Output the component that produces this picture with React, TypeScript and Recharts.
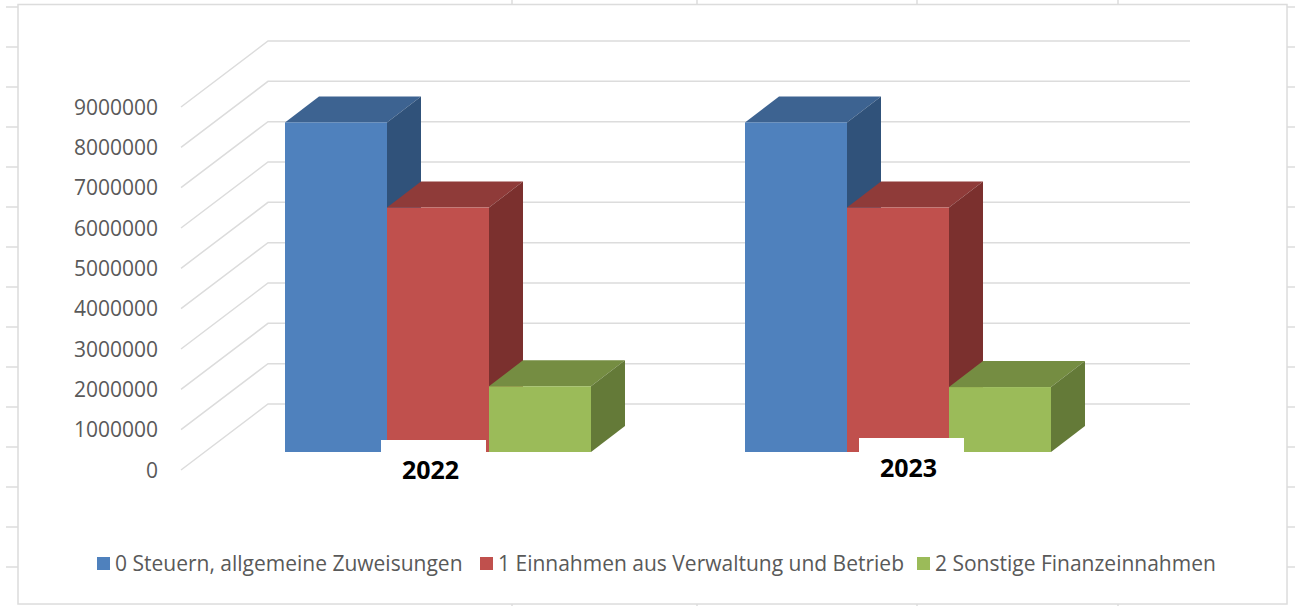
import { Bar, BarChart, CartesianGrid, Legend, XAxis, YAxis } from "recharts";

const years = ["2022", "2023"];
const steuern = [8170000, 8170000];
const einnahmen = [6060000, 6060000];
const sonstige = [1630000, 1610000];
const yTicks = [0, 1000000, 2000000, 3000000, 4000000, 5000000, 6000000, 7000000, 8000000, 9000000];

const rows = years.map((year, i) => ({
  year,
  steuern: steuern[i],
  einnahmen: einnahmen[i],
  sonstige: sonstige[i],
}));

const WIDTH = 1295;
const HEIGHT = 606;
const FONT = '"Open Sans", sans-serif';
const DEPTH_X = 34;
const DEPTH_Y = 26;
const GRID = "#dcdcdc";

// sheet cell lines around the chart object
const rowLines = [7, 47, 87, 127, 167, 207, 247, 287, 327, 367, 407, 447, 487, 527, 567];
const colLines = [512, 697, 917, 1118];

// the two year labels sit a bit off-centre in the source
const yearNudge: Record<string, { patch: number; text: number; dy: number }> = {
  "2022": { patch: -5, text: -8, dy: 0 },
  "2023": { patch: 13, text: 10, dy: -2 },
};

const legendLeft = [97, 480, 917];

function box3d(topColor: string, sideColor: string) {
  return function Box(props: any) {
    const { x, y, width, height, fill } = props;
    const r = x + width;
    const b = y + height;
    return (
      <g>
        <path
          d={`M${x},${y}L${x + DEPTH_X},${y - DEPTH_Y}L${r + DEPTH_X},${y - DEPTH_Y}L${r},${y}Z`}
          fill={topColor}
        />
        <path
          d={`M${r},${y}L${r + DEPTH_X},${y - DEPTH_Y}L${r + DEPTH_X},${b - DEPTH_Y}L${r},${b}Z`}
          fill={sideColor}
        />
        <rect x={x} y={y} width={width} height={height} fill={fill} />
      </g>
    );
  };
}

function WallLine(props: any) {
  const { y1 } = props;
  return (
    <g stroke={GRID} strokeWidth={1.5} fill="none">
      <path d={`M181,${y1 + 18}L268,${y1 - 48}L1190,${y1 - 48}`} />
    </g>
  );
}

function ValueTick(props: any) {
  const { y, payload } = props;
  return (
    <text x={158} y={y + 18} dy="0.36em" textAnchor="end" fontFamily={FONT} fontSize={21} fill="#595959">
      {payload.value}
    </text>
  );
}

function YearTick(props: any) {
  const { x, payload } = props;
  const nudge = yearNudge[payload.value];
  return (
    <g>
      <rect x={x + nudge.patch - 52.5} y={440 + nudge.dy} width={105} height={16} fill="#fff" />
      <text
        x={x + nudge.text}
        y={470 + nudge.dy}
        dy="0.36em"
        textAnchor="middle"
        fontFamily={FONT}
        fontWeight={700}
        fontSize={25}
        fill="#000"
      >
        {payload.value}
      </text>
    </g>
  );
}

function LegendRow(props: any) {
  return (
    <div style={{ position: "relative", width: WIDTH, height: 30 }}>
      {props.payload.map((item: any, i: number) => (
        <div
          key={item.value}
          style={{
            position: "absolute",
            left: legendLeft[i],
            top: 0,
            display: "flex",
            alignItems: "center",
            gap: 5,
            fontFamily: FONT,
            fontSize: 21,
            color: "#595959",
            whiteSpace: "nowrap",
          }}
        >
          <span style={{ width: 13, height: 13, background: item.color }} />
          {item.value}
        </div>
      ))}
    </div>
  );
}

function SheetLines() {
  return (
    <svg width={WIDTH} height={HEIGHT} style={{ position: "absolute", left: 0, top: 0 }}>
      <g stroke={GRID} strokeWidth={1.5} fill="none">
        {rowLines.map((y) => (
          <g key={y}>
            <line x1={6} x2={18} y1={y} y2={y} />
            <line x1={1287} x2={1295} y1={y} y2={y} />
          </g>
        ))}
        {colLines.map((x) => (
          <g key={x}>
            <line x1={x} x2={x} y1={0} y2={4} />
            <line x1={x} x2={x} y1={604} y2={606} />
          </g>
        ))}
        <rect x={18} y={4.5} width={1269} height={599.5} fill="#fff" />
      </g>
    </svg>
  );
}

export default function App() {
  return (
    <div style={{ position: "absolute", left: 0, top: 0, width: WIDTH, height: HEIGHT, background: "#fff" }}>
      <SheetLines />
      <div style={{ position: "absolute", left: 0, top: 0 }}>
        <BarChart
          width={WIDTH}
          height={HEIGHT}
          data={rows}
          barGap={0}
          barCategoryGap={76.5}
          margin={{ top: 89, right: 166.5, bottom: 94, left: 148.5 }}
        >
          <CartesianGrid vertical={false} horizontal={(p: any) => <WallLine key={p.y1} {...p} />} />
          <YAxis
            width={60}
            domain={[0, 9000000]}
            ticks={yTicks}
            interval={0}
            axisLine={false}
            tickLine={false}
            tick={<ValueTick />}
          />
          <Bar
            dataKey="steuern"
            name="0 Steuern, allgemeine Zuweisungen"
            fill="#4f81bd"
            shape={box3d("#3d6391", "#30527a")}
            isAnimationActive={false}
          />
          <Bar
            dataKey="einnahmen"
            name="1 Einnahmen aus Verwaltung und Betrieb"
            fill="#c0504d"
            shape={box3d("#8f3b39", "#7b302e")}
            isAnimationActive={false}
          />
          <Bar
            dataKey="sonstige"
            name="2 Sonstige Finanzeinnahmen"
            fill="#9bbb59"
            shape={box3d("#758d42", "#647a38")}
            isAnimationActive={false}
          />
          <XAxis dataKey="year" height={30} axisLine={false} tickLine={false} tick={<YearTick />} />
          <Legend
            height={0}
            content={<LegendRow />}
            wrapperStyle={{ left: 0, top: 549, bottom: "auto", width: WIDTH, height: 30 }}
          />
        </BarChart>
      </div>
    </div>
  );
}
